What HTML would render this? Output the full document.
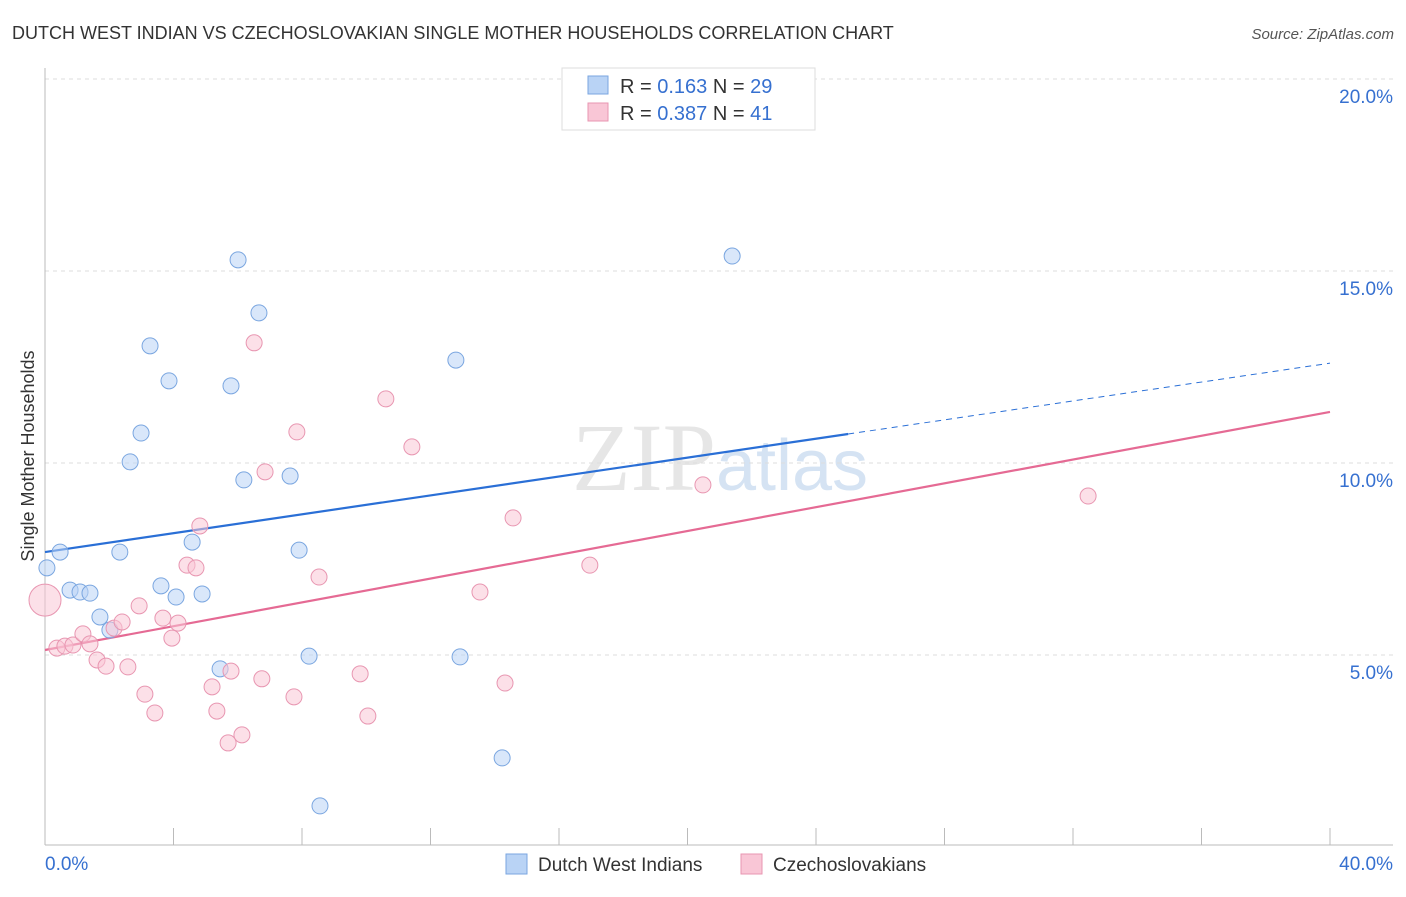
<!DOCTYPE html>
<html><head><meta charset="utf-8"><style>
body{margin:0;background:#fff;font-family:"Liberation Sans",sans-serif;}
</style></head><body>
<svg id="chart" width="1406" height="892" xmlns="http://www.w3.org/2000/svg" font-family="Liberation Sans, sans-serif">
<text x="12" y="39" font-size="18" fill="#333">DUTCH WEST INDIAN VS CZECHOSLOVAKIAN SINGLE MOTHER HOUSEHOLDS CORRELATION CHART</text>
<text x="1394" y="39" font-size="15" fill="#555" font-style="italic" text-anchor="end">Source: ZipAtlas.com</text>
<text x="720" y="490" font-size="96" fill="#e6e6e6" text-anchor="middle" font-family="Liberation Serif, serif">ZIP<tspan fill="#d5e3f3" font-family="Liberation Sans, sans-serif" font-size="72">atlas</tspan></text>
<g id="grid"></g>
<g id="axes"></g>
<g id="trend"></g>
<g id="points"></g>
<text transform="translate(34,456) rotate(-90)" font-size="18" fill="#333" text-anchor="middle">Single Mother Households</text>
<g>
<rect x="562" y="68" width="253" height="62" fill="#fff" stroke="#ddd"/>
<rect x="588" y="76" width="20" height="18" fill="#b9d3f5" stroke="#7aa6e0"/>
<rect x="588" y="103" width="20" height="18" fill="#f9c6d6" stroke="#e896b1"/>
<text x="620" y="93" font-size="20" fill="#333">R = <tspan fill="#3670d0">0.163</tspan>   N = <tspan fill="#3670d0">29</tspan></text>
<text x="620" y="120" font-size="20" fill="#333">R = <tspan fill="#3670d0">0.387</tspan>   N = <tspan fill="#3670d0">41</tspan></text>
</g>
<g>
<rect x="506" y="854" width="21" height="20" fill="#b9d3f5" stroke="#7aa6e0"/>
<text x="538" y="871" font-size="19" fill="#333">Dutch West Indians</text>
<rect x="741" y="854" width="21" height="20" fill="#f9c6d6" stroke="#e896b1"/>
<text x="773" y="871" font-size="19" fill="#333">Czechoslovakians</text>
</g>
</svg>
<script>
const blueX=[0.06,0.47,0.78,1.09,1.40,1.71,2.02,2.33,2.65,2.99,3.27,3.61,3.86,4.08,4.58,4.89,5.45,5.79,6.01,6.19,6.66,7.63,7.91,8.22,8.56,12.79,12.92,14.23,21.39];
const blueY=[7.27,7.68,6.69,6.64,6.61,5.99,5.65,7.68,10.03,10.78,13.05,6.80,12.14,6.51,7.94,6.59,4.64,12.01,15.29,9.56,13.91,9.66,7.73,4.97,1.07,12.68,4.95,2.32,15.39];
const pinkX=[0,0.37,0.62,0.87,1.18,1.40,1.62,1.90,2.15,2.40,2.58,2.93,3.11,3.42,3.67,3.95,4.14,4.42,4.70,4.82,5.20,5.35,5.70,5.79,6.13,6.51,6.75,6.85,7.75,7.84,8.53,9.81,10.05,10.61,11.42,13.54,14.32,14.57,16.96,20.48,32.47];
const pinkY=[6.43,5.18,5.23,5.26,5.55,5.29,4.87,4.71,5.70,5.86,4.69,6.28,3.98,3.49,5.96,5.44,5.83,7.34,7.27,8.36,4.17,3.54,2.71,4.58,2.92,13.13,4.38,9.77,3.91,10.81,7.03,4.51,3.41,11.67,10.42,6.64,4.27,8.57,7.34,9.43,9.14];
const blueTrend=[7.68,12.6];
const pinkTrend=[5.13,11.33];
const yTicks=[5,10,15,20];
const xTicks=[0,4,8,12,16,20,24,28,32,36,40];
const NS='http://www.w3.org/2000/svg';
const sx=v=>45+v/40*1285, sy=v=>847-v*38.4;
function mk(tag,attrs,parent){const e=document.createElementNS(NS,tag);for(const k in attrs)e.setAttribute(k,attrs[k]);document.getElementById(parent).appendChild(e);return e;}
yTicks.forEach(t=>{
 const l=mk('line',{x1:45,x2:1393,y1:sy(t),y2:sy(t),stroke:'#ddd','stroke-dasharray':'4,4'},'grid');
 
 
 const tx=mk('text',{x:1393,y:sy(t)+24,'font-size':19,fill:'#3670d0','text-anchor':'end'},'grid');
 tx.textContent=t.toFixed(1)+'%';
 
 
});
let a=mk('line',{x1:45,x2:45,y1:68,y2:845,stroke:'#bbb'},'axes');


a=mk('line',{x1:45,x2:1393,y1:845,y2:845,stroke:'#bbb'},'axes');


xTicks.forEach(t=>{
 const l=mk('line',{x1:sx(t),x2:sx(t),y1:828,y2:845,stroke:'#bbb'},'axes');
 
 
});
[[0,'0.0%','start',45],[40,'40.0%','end',1393]].forEach(d=>{
 const tx=mk('text',{x:d[3],y:870,'font-size':19,fill:'#3670d0','text-anchor':d[2]},'axes');
 tx.textContent=d[1];
 
 
});
function pts(xs,ys,fill,stroke,name){xs.forEach((x,i)=>{
 const c=mk('circle',{cx:sx(x),cy:sy(ys[i]),r:(name==='pink-point'&&i===0)?16:8,fill:fill,'fill-opacity':0.55,stroke:stroke,'stroke-width':1},'points');
 
 
});}
pts(blueX,blueY,'#b9d3f5','#7aa6e0','blue-point');
pts(pinkX,pinkY,'#f9c6d6','#e896b1','pink-point');
const bm=blueTrend[0]+(blueTrend[1]-blueTrend[0])*(25/40);
let t=mk('line',{x1:sx(0),y1:sy(blueTrend[0]),x2:sx(25),y2:sy(bm),stroke:'#2a6fd6','stroke-width':2.2},'trend');


t=mk('line',{x1:sx(25),y1:sy(bm),x2:sx(40),y2:sy(blueTrend[1]),stroke:'#2a6fd6','stroke-width':1,'stroke-dasharray':'6,5'},'trend');


t=mk('line',{x1:sx(0),y1:sy(pinkTrend[0]),x2:sx(40),y2:sy(pinkTrend[1]),stroke:'#e56a94','stroke-width':2.2},'trend');


</script>
</body></html>
